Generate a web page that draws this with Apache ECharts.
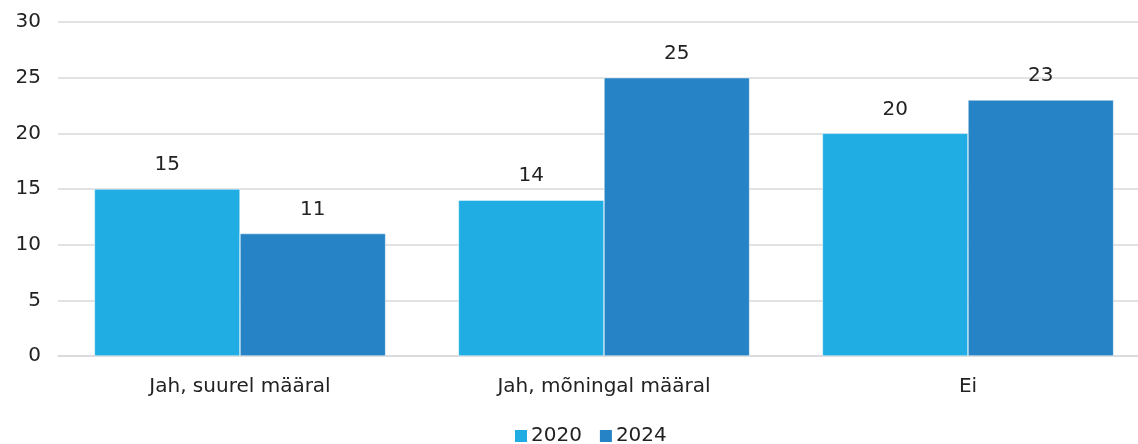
<!DOCTYPE html>
<html>
<head>
<meta charset="utf-8">
<script src="https://cdn.jsdelivr.net/npm/echarts@6/dist/echarts.min.js"></script>
<style>
  html, body { margin: 0; padding: 0; background: #fff; }
  #chart { width: 1138px; height: 444px; }
</style>
</head>
<body>
<div id="chart"></div>
<script>
// andmed
const categories = ['Jah, suurel määral', 'Jah, mõningal määral', 'Ei']
const values2020 = [15, 14, 20]
const values2024 = [11, 25, 23]
const yTicks = [0, 5, 10, 15, 20, 25, 30]

const font = '"DejaVu Sans", sans-serif'
const chart = echarts.init(document.getElementById('chart'))

const label = {
  show: true,
  position: 'top',
  distance: 14,
  color: '#222',
  fontSize: 20,
  fontFamily: font
}

chart.setOption({
  animation: false,
  grid: {
    left: 58, width: 1092, top: 22, bottom: 88,
    containLabel: false,
    outerBoundsMode: 'none'
  },
  legend: {
    top: 421,
    left: 508,
    itemWidth: 14,
    itemHeight: 14,
    itemGap: 16,
    icon: 'rect',
    textStyle: { fontSize: 20, color: '#222', fontFamily: font, padding: [0, 0, 0, -2] },
    data: ['2020', '2024']
  },
  xAxis: {
    type: 'category',
    data: categories,
    axisTick: { show: false },
    axisLine: { lineStyle: { color: '#d9d9d9', width: 1.5 } },
    axisLabel: { fontSize: 20, color: '#222', fontFamily: font, margin: 21 }
  },
  yAxis: {
    type: 'value',
    min: yTicks[0],
    max: yTicks[yTicks.length - 1],
    interval: 5,
    axisLabel: { fontSize: 20, color: '#222', fontFamily: font, margin: 17 },
    splitLine: { lineStyle: { color: '#d9d9d9', width: 1.5 } }
  },
  series: [
    {
      name: '2020',
      type: 'bar',
      data: values2020,
      barGap: '0%',
      barCategoryGap: '20%',
      itemStyle: { color: '#1FADE4', borderColor: '#fff', borderWidth: 0.5 },
      label: label
    },
    {
      name: '2024',
      type: 'bar',
      data: values2024,
      itemStyle: { color: '#2683C6', borderColor: '#fff', borderWidth: 0.5 },
      label: label
    }
  ]
})
</script>
</body>
</html>
